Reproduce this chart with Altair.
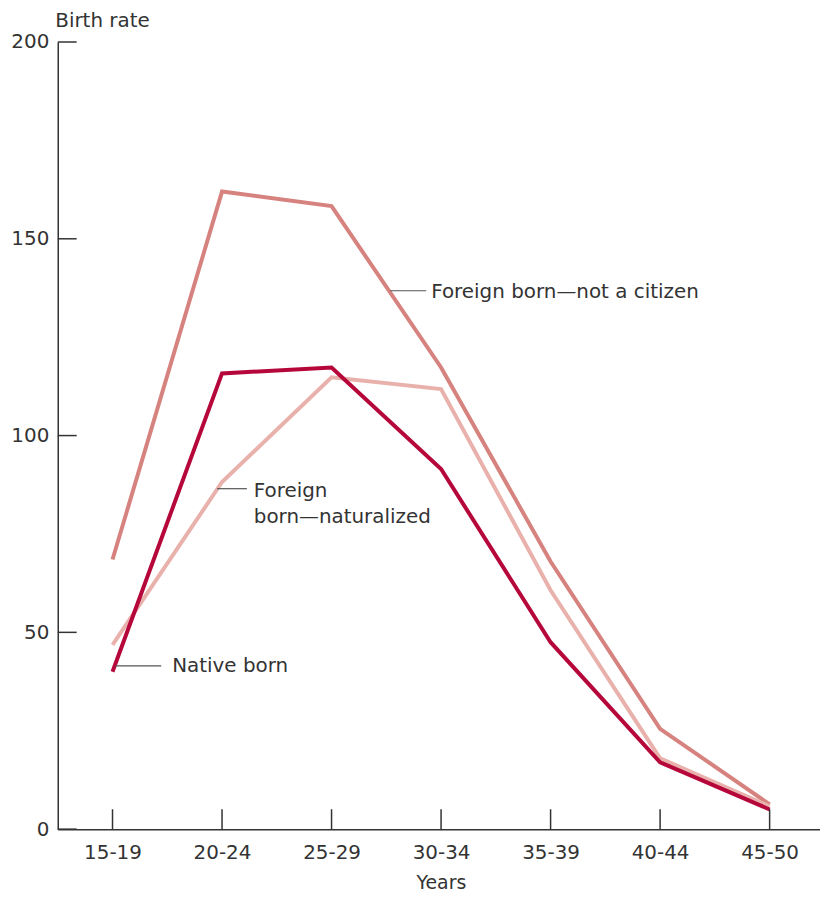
import json
import altair as alt
import pandas as pd

# ---- data ----
categories = ["15-19", "20-24", "25-29", "30-34", "35-39", "40-44", "45-50"]
native_born = [40, 115.8, 117.3, 91.5, 47.5, 17, 5]
foreign_naturalized = [46.8, 88.2, 114.8, 111.8, 60.7, 18, 5.8]
foreign_not_citizen = [68.5, 162, 158.3, 117.3, 68, 25.5, 6.3]

series_names = ["Foreign born—not a citizen", "Foreign born—naturalized", "Native born"]
series_colors = ["#D6837F", "#E9B1AC", "#B6073B"]
y_ticks = [0, 50, 100, 150, 200]

# annotation labels (data coordinates: x = category index, y = birth rate)
ann_text = ["Foreign born—not a citizen", "Foreign", "born—naturalized", "Native born"]
ann_text_x = [2.91, 1.29, 1.29, 0.545]
ann_text_y = [136.6, 86.0, 79.2, 41.5]
leader_x = [2.536, 0.955, 0.027]
leader_x2 = [2.864, 1.227, 0.445]
leader_y = [136.8, 86.5, 41.5]

FONT = "DejaVu Sans"
TXT = "#333333"

rows = []
for name, vals in zip(series_names, [foreign_not_citizen, foreign_naturalized, native_born]):
    for i, v in enumerate(vals):
        rows.append({"series": name, "idx": i, "value": v})
df = pd.DataFrame(rows)

xscale = alt.Scale(domain=[-0.5, 6.46], nice=False, zero=False)
yscale = alt.Scale(domain=[0, 200], nice=False)

label_expr = json.dumps(categories) + "[datum.value]"

x_axis = alt.Axis(values=list(range(len(categories))), labelExpr=label_expr, ticks=False,
                  grid=False, domainColor=TXT, domainWidth=1.5, labelFontSize=20,
                  labelColor=TXT, labelFont=FONT, labelPadding=14, title="Years",
                  titleFontSize=19, titleFontWeight="normal", titleFont=FONT, titleColor=TXT,
                  titleY=60, titleBaseline="alphabetic", titleX=385)
y_axis = alt.Axis(values=y_ticks, ticks=False, grid=False, domainColor=TXT, domainWidth=1.5,
                  labelFontSize=20, labelColor=TXT, labelFont=FONT, labelPadding=9,
                  title="Birth rate", titleAngle=0, titleX=-3, titleY=-22, titleAlign="left",
                  titleBaseline="middle", titleFontSize=20, titleFontWeight="normal",
                  titleFont=FONT, titleColor=TXT)

X = alt.X("idx:Q", scale=xscale, axis=x_axis)
Y = alt.Y("value:Q", scale=yscale, axis=y_axis)

layers = []
for name, col in zip(series_names, series_colors):
    layers.append(
        alt.Chart(df).transform_filter(alt.datum.series == name)
        .mark_line(strokeWidth=4, color=col, strokeJoin="miter")
        .encode(x=X, y=Y)
    )

ytick = alt.Chart(pd.DataFrame({"value": y_ticks})).mark_rule(color=TXT, strokeWidth=1.5).encode(
    y=Y, x=alt.value(0), x2=alt.value(19))
xtick = alt.Chart(pd.DataFrame({"idx": list(range(len(categories)))})).mark_rule(
    color=TXT, strokeWidth=1.5).encode(x=X, y=alt.value(791), y2=alt.value(771))

leaders = alt.Chart(pd.DataFrame({"idx": leader_x, "idx2": leader_x2, "value": leader_y})).mark_rule(
    color="#555555", strokeWidth=1.2).encode(x=X, x2="idx2:Q", y=Y)

texts = alt.Chart(pd.DataFrame({"idx": ann_text_x, "value": ann_text_y, "t": ann_text})).mark_text(
    align="left", baseline="middle", font=FONT, fontSize=20, color=TXT).encode(
    x=X, y=Y, text="t:N")

chart = alt.layer(*layers, ytick, xtick, leaders, texts).properties(
    width=766, height=791,
    padding={"left": 50, "top": 32, "right": 0, "bottom": 62},
    autosize=alt.AutoSizeParams(type="none"),
).configure_view(stroke=None)

chart.save("out.html", embed_options={"renderer": "svg", "actions": False})
